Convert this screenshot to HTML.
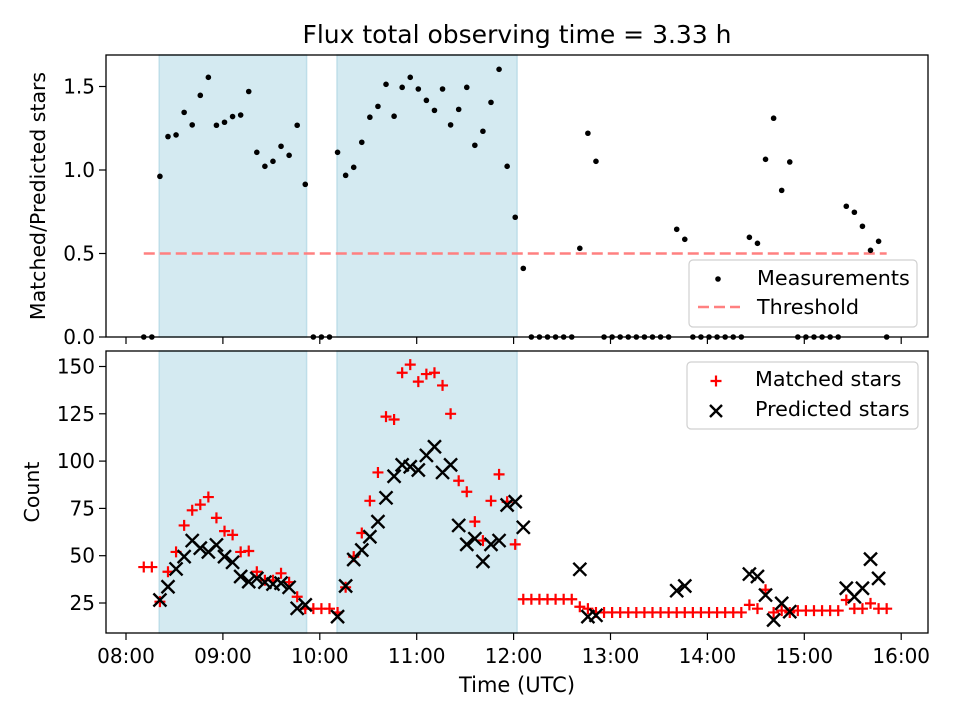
<!DOCTYPE html>
<html><head><meta charset="utf-8"><style>
body{margin:0;background:#fff;}
svg{display:block;font-family:"DejaVu Sans","Liberation Sans",sans-serif;}
</style></head><body>
<svg id="fig" width="960" height="720" viewBox="0 0 960 720">
<rect width="960" height="720" fill="#fff"/>
<text x="517" y="43" font-size="25" text-anchor="middle">Flux total observing time = 3.33 h</text>
<g id="top"></g>
<g id="bot"></g>
<text transform="translate(45,196) rotate(-90)" font-size="20.5" text-anchor="middle">Matched/Predicted stars</text>
<text transform="translate(39,492) rotate(-90)" font-size="20.5" text-anchor="middle">Count</text>
<text x="517" y="692" font-size="21" text-anchor="middle">Time (UTC)</text>
</svg>
<script>
const times=[11,16,21,26,31,36,41,46,51,56,61,66,71,76,81,86,91,96,101,106,111,116,121,126,131,136,141,146,151,156,161,166,171,176,181,186,191,196,201,206,211,216,221,226,231,236,241,246,251,256,261,266,271,276,281,286,291,296,301,306,311,316,321,326,331,336,341,346,351,356,361,366,371,376,381,386,391,396,401,406,411,416,421,426,431,436,441,446,451,456,461,466,471];
const ratio=[0,0,0.962,1.20,1.21,1.345,1.27,1.447,1.555,1.268,1.286,1.32,1.329,1.47,1.106,1.022,1.052,1.142,1.088,1.268,0.914,0,0,0,1.106,0.968,1.016,1.166,1.316,1.381,1.513,1.322,1.495,1.555,1.485,1.417,1.357,1.485,1.27,1.363,1.495,1.148,1.232,1.405,1.603,1.022,0.717,0.411,0,0,0,0,0,0,0.531,1.22,1.052,0,0,0,0,0,0,0,0,0,0.645,0.585,0,0,0,0,0,0,0,0.597,0.561,1.064,1.31,0.878,1.048,0,0,0,0,0,0,0.783,0.747,0.663,0.519,0.573,0];
const matched=[44,44,25.7,41.5,52,66,74,77,81,70,63,61,52,52.5,41.5,37,37,40.7,36,28.3,22,22,22,22,20,33.3,49.5,62,79,94,123.5,122,146.7,151,142,146,146.7,140,125,89.6,83.8,68,58,79,93,78.5,56,27,27,27,27,27,27,27,23,22,20,20,20,20,20,20,20,20,20,20,20,20,20,20,20,20,20,20,20,24,22,32,20,21,20,21,21,21,21,21,21,26.6,22,22,24.8,22,22];
const predicted=[null,null,26.6,33.6,43,49.5,58,54,52,55.7,49.5,46.5,39,36.3,38,36,35,35.5,33.3,22.2,24,null,null,null,17.8,34,48,53,60,68,80.6,92,98,97,95.3,103,107.6,94,98,66,56,59,47,56,58,76.8,78.5,65,null,null,null,null,null,null,42.8,17.8,18.5,null,null,null,null,null,null,null,null,null,31.5,34,null,null,null,null,null,null,null,40.3,39,29.2,16,24.8,20.4,null,null,null,null,null,null,32.8,28.3,32.8,48.2,38,null];
const threshold=0.5;
const spans=[[20.6,111.8],[130.7,242.1]];
const xTicks=["08:00","09:00","10:00","11:00","12:00","13:00","14:00","15:00","16:00"];
const xTickMins=[0,60,120,180,240,300,360,420,480];
const topTicks=[0,0.5,1.0,1.5];
const topTickLabels=["0.0","0.5","1.0","1.5"];
const botTicks=[25,50,75,100,125,150];

const NS="http://www.w3.org/2000/svg";
function mk(tag,attrs,parent){const e=document.createElementNS(NS,tag);for(const k in attrs)e.setAttribute(k,attrs[k]);parent.appendChild(e);return e;}
const L=106,R=928;
const T1=55,B1=337,T2=351,B2=633;
const xs=t=>126+t*96.9/60;
const yTop=v=>337-v*167;
const yBot=c=>603-(c-25)*1.892;
const gT=document.getElementById('top'),gB=document.getElementById('bot');

function panel(g,T,B,isTop){
  spans.forEach((s,i)=>{
    const r=mk('rect',{x:xs(s[0]),y:T,width:xs(s[1])-xs(s[0]),height:B-T,fill:'rgb(212,234,241)',stroke:'rgb(190,222,233)','stroke-width':1.5},g);
    
    
  });
  xTickMins.forEach((m,i)=>{
    const x=xs(m);
    const tk=mk('line',{x1:x,x2:x,y1:B,y2:B+7,stroke:'#000','stroke-width':1.2},g);
    
    
    if(!isTop){
      const t=mk('text',{x:x,y:B+30,'font-size':20,'text-anchor':'middle'},g);
      t.textContent=xTicks[i];
      
      
    }
  });
}
panel(gT,T1,B1,true);
panel(gB,T2,B2,false);

const th=mk('line',{x1:xs(times[0]),x2:xs(times[times.length-1]),y1:yTop(threshold),y2:yTop(threshold),stroke:'rgb(255,128,128)','stroke-width':2.5,'stroke-dasharray':'11 5'},gT);



times.forEach((t,i)=>{
  const c=mk('circle',{cx:xs(t),cy:yTop(ratio[i]),r:2.8,fill:'#000'},gT);
  
  
});
times.forEach((t,i)=>{
  if(matched[i]==null)return;
  const x=xs(t),y=yBot(matched[i]);
  const p=mk('path',{d:`M${x-5.5},${y}H${x+5.5}M${x},${y-5.5}V${y+5.5}`,stroke:'#ff0000','stroke-width':2.2,fill:'none'},gB);
  
  
});
times.forEach((t,i)=>{
  if(predicted[i]==null)return;
  const x=xs(t),y=yBot(predicted[i]);
  const p=mk('path',{d:`M${x-6.5},${y-6.5}L${x+6.5},${y+6.5}M${x-6.5},${y+6.5}L${x+6.5},${y-6.5}`,stroke:'#000','stroke-width':2.4,fill:'none'},gB);
  
  
});

topTicks.forEach((v,i)=>{
  const y=yTop(v);
  const tk=mk('line',{x1:L-7,x2:L,y1:y,y2:y,stroke:'#000','stroke-width':1.2},gT);
  
  
  const t=mk('text',{x:L-11,y:y+7,'font-size':20,'text-anchor':'end'},gT);
  t.textContent=topTickLabels[i];
  
  
});
botTicks.forEach(v=>{
  const y=yBot(v);
  const tk=mk('line',{x1:L-7,x2:L,y1:y,y2:y,stroke:'#000','stroke-width':1.2},gB);
  
  
  const t=mk('text',{x:L-11,y:y+7,'font-size':20,'text-anchor':'end'},gB);
  t.textContent=String(v);
  
  
});

const f1=mk('rect',{x:L,y:T1,width:R-L,height:B1-T1,fill:'none',stroke:'#000','stroke-width':1.3},gT);


const f2=mk('rect',{x:L,y:T2,width:R-L,height:B2-T2,fill:'none',stroke:'#000','stroke-width':1.3},gB);



const lg1=mk('g',{},gT);


mk('rect',{x:689,y:260,width:228,height:67,rx:4,fill:'rgba(255,255,255,0.85)',stroke:'#d0d0d0','stroke-width':1.2},lg1);
mk('circle',{cx:718,cy:279,r:2.8,fill:'#000'},lg1);
const l1=mk('text',{x:757,y:285,'font-size':20.7},lg1);l1.textContent='Measurements';


mk('line',{x1:698,x2:740,y1:307,y2:307,stroke:'rgb(255,128,128)','stroke-width':2.5,'stroke-dasharray':'11 5'},lg1);
const l2=mk('text',{x:757,y:314,'font-size':20.7},lg1);l2.textContent='Threshold';



const lg2=mk('g',{},gB);


mk('rect',{x:687,y:362,width:231,height:67,rx:4,fill:'rgba(255,255,255,0.85)',stroke:'#d0d0d0','stroke-width':1.2},lg2);
mk('path',{d:'M710.5,381H721.5M716,375.5V386.5',stroke:'#ff0000','stroke-width':2.2},lg2);
const l3=mk('text',{x:755,y:386,'font-size':20.7},lg2);l3.textContent='Matched stars';


mk('path',{d:'M710,405L722,417M710,417L722,405',stroke:'#000','stroke-width':2.4},lg2);
const l4=mk('text',{x:755,y:416,'font-size':20.7},lg2);l4.textContent='Predicted stars';


</script>
</body></html>
